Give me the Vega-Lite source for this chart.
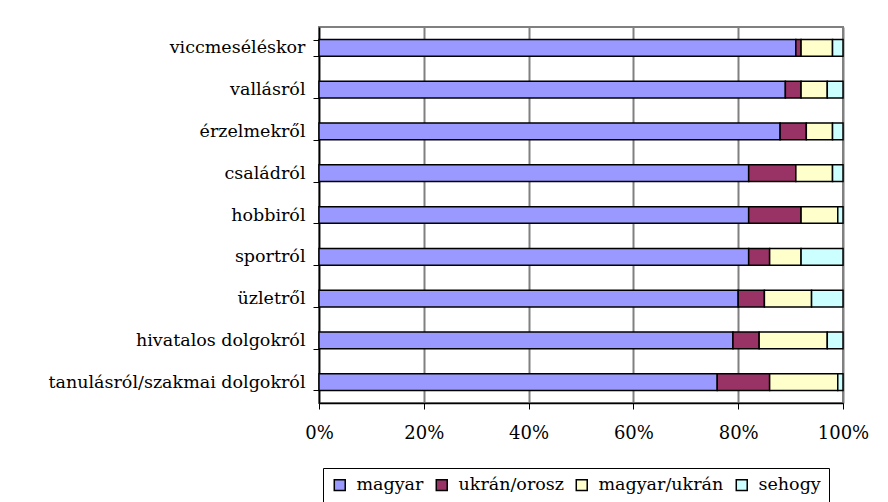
{
  "$schema": "https://vega.github.io/schema/vega-lite/v6.json",
  "width": 524,
  "height": 376,
  "autosize": {"type": "none"},
  "padding": {"left": 319, "top": 27, "right": 45, "bottom": 99},
  "background": "white",
  "config": {
    "font": "DejaVu Serif",
    "view": {"stroke": "#808080", "strokeWidth": 2, "fill": "white"}
  },
  "data": {
    "values": [
      {"tema": "viccmeséléskor", "nyelv": "magyar", "sor": 1, "ertek": 91},
      {"tema": "viccmeséléskor", "nyelv": "ukrán/orosz", "sor": 2, "ertek": 1},
      {"tema": "viccmeséléskor", "nyelv": "magyar/ukrán", "sor": 3, "ertek": 6},
      {"tema": "viccmeséléskor", "nyelv": "sehogy", "sor": 4, "ertek": 2},
      {"tema": "vallásról", "nyelv": "magyar", "sor": 1, "ertek": 89},
      {"tema": "vallásról", "nyelv": "ukrán/orosz", "sor": 2, "ertek": 3},
      {"tema": "vallásról", "nyelv": "magyar/ukrán", "sor": 3, "ertek": 5},
      {"tema": "vallásról", "nyelv": "sehogy", "sor": 4, "ertek": 3},
      {"tema": "érzelmekről", "nyelv": "magyar", "sor": 1, "ertek": 88},
      {"tema": "érzelmekről", "nyelv": "ukrán/orosz", "sor": 2, "ertek": 5},
      {"tema": "érzelmekről", "nyelv": "magyar/ukrán", "sor": 3, "ertek": 5},
      {"tema": "érzelmekről", "nyelv": "sehogy", "sor": 4, "ertek": 2},
      {"tema": "családról", "nyelv": "magyar", "sor": 1, "ertek": 82},
      {"tema": "családról", "nyelv": "ukrán/orosz", "sor": 2, "ertek": 9},
      {"tema": "családról", "nyelv": "magyar/ukrán", "sor": 3, "ertek": 7},
      {"tema": "családról", "nyelv": "sehogy", "sor": 4, "ertek": 2},
      {"tema": "hobbiról", "nyelv": "magyar", "sor": 1, "ertek": 82},
      {"tema": "hobbiról", "nyelv": "ukrán/orosz", "sor": 2, "ertek": 10},
      {"tema": "hobbiról", "nyelv": "magyar/ukrán", "sor": 3, "ertek": 7},
      {"tema": "hobbiról", "nyelv": "sehogy", "sor": 4, "ertek": 1},
      {"tema": "sportról", "nyelv": "magyar", "sor": 1, "ertek": 82},
      {"tema": "sportról", "nyelv": "ukrán/orosz", "sor": 2, "ertek": 4},
      {"tema": "sportról", "nyelv": "magyar/ukrán", "sor": 3, "ertek": 6},
      {"tema": "sportról", "nyelv": "sehogy", "sor": 4, "ertek": 8},
      {"tema": "üzletről", "nyelv": "magyar", "sor": 1, "ertek": 80},
      {"tema": "üzletről", "nyelv": "ukrán/orosz", "sor": 2, "ertek": 5},
      {"tema": "üzletről", "nyelv": "magyar/ukrán", "sor": 3, "ertek": 9},
      {"tema": "üzletről", "nyelv": "sehogy", "sor": 4, "ertek": 6},
      {"tema": "hivatalos dolgokról", "nyelv": "magyar", "sor": 1, "ertek": 79},
      {"tema": "hivatalos dolgokról", "nyelv": "ukrán/orosz", "sor": 2, "ertek": 5},
      {"tema": "hivatalos dolgokról", "nyelv": "magyar/ukrán", "sor": 3, "ertek": 13},
      {"tema": "hivatalos dolgokról", "nyelv": "sehogy", "sor": 4, "ertek": 3},
      {"tema": "tanulásról/szakmai dolgokról", "nyelv": "magyar", "sor": 1, "ertek": 76},
      {"tema": "tanulásról/szakmai dolgokról", "nyelv": "ukrán/orosz", "sor": 2, "ertek": 10},
      {"tema": "tanulásról/szakmai dolgokról", "nyelv": "magyar/ukrán", "sor": 3, "ertek": 13},
      {"tema": "tanulásról/szakmai dolgokról", "nyelv": "sehogy", "sor": 4, "ertek": 1}
    ]
  },
  "mark": {"type": "bar", "stroke": "black", "strokeWidth": 1.5, "opacity": 1},
  "encoding": {
    "y": {
      "field": "tema",
      "type": "nominal",
      "sort": ["viccmeséléskor", "vallásról", "érzelmekről", "családról", "hobbiról", "sportról", "üzletről", "hivatalos dolgokról", "tanulásról/szakmai dolgokról"],
      "scale": {"paddingInner": 0.6, "paddingOuter": 0.3},
      "axis": {
        "title": null,
        "domainColor": "black",
        "domainWidth": 1.5,
        "tickColor": "black",
        "tickSize": 6,
        "tickBand": "extent",
        "labelFont": "DejaVu Serif",
        "labelFontSize": 17.5,
        "labelColor": "black",
        "labelPadding": 8,
        "labelLimit": 400,
        "grid": false
      }
    },
    "x": {
      "field": "ertek",
      "type": "quantitative",
      "stack": "normalize",
      "scale": {"domain": [0, 1]},
      "axis": {
        "title": null,
        "values": [0, 0.2, 0.4, 0.6, 0.8, 1],
        "format": ".0%",
        "domainColor": "black",
        "domainWidth": 1.5,
        "tickColor": "black",
        "tickSize": 6,
        "labelFont": "DejaVu Serif",
        "labelFontSize": 18,
        "labelColor": "black",
        "labelPadding": 15,
        "labelFlush": false,
        "labelAlign": "center",
        "grid": true,
        "gridColor": "#808080",
        "gridWidth": 2
      }
    },
    "fill": {
      "field": "nyelv",
      "type": "nominal",
      "scale": {
        "domain": ["magyar", "ukrán/orosz", "magyar/ukrán", "sehogy"],
        "range": ["#9999FF", "#993366", "#FFFFCC", "#CCFFFF"]
      },
      "legend": {
        "title": null,
        "orient": "none",
        "legendX": 4,
        "legendY": 441,
        "direction": "horizontal",
        "columns": 4,
        "strokeColor": "black",
        "padding": 8,
        "symbolType": "square",
        "symbolSize": 120,
        "symbolStrokeColor": "black",
        "symbolStrokeWidth": 1.5,
        "labelFont": "DejaVu Serif",
        "labelFontSize": 17.5,
        "labelColor": "black",
        "labelOffset": 8,
        "columnPadding": 9,
        "labelLimit": 300
      }
    },
    "order": {"field": "sor", "type": "quantitative"}
  }
}
